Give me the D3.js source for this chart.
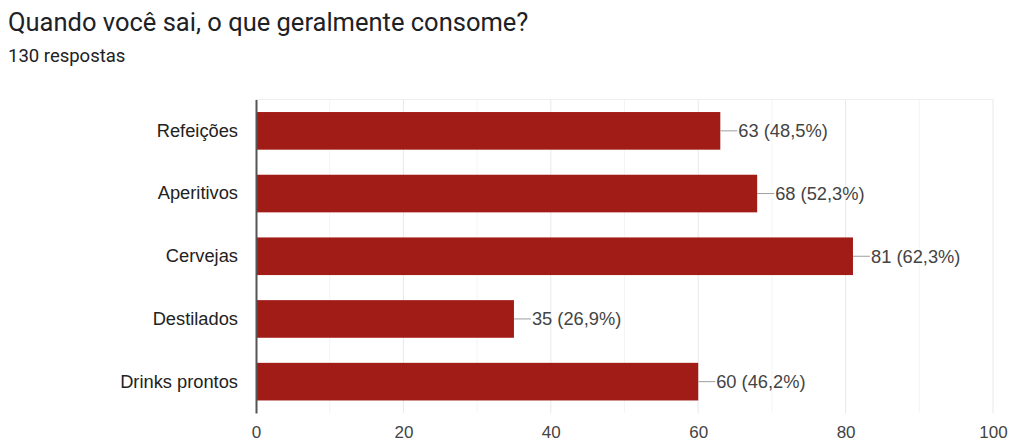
<!DOCTYPE html>
<html>
<head>
<meta charset="utf-8">
<script src="https://cdn.jsdelivr.net/npm/d3@7"></script>
<style>
  body { margin: 0; background: #fff; }
  svg { display: block; }
</style>
</head>
<body>
<svg id="chart" width="1010" height="441"></svg>
<script>
// data
var categorias = ["Refeições", "Aperitivos", "Cervejas", "Destilados", "Drinks prontos"];
var valores = [63, 68, 81, 35, 60];
var percentuais = ["48,5%", "52,3%", "62,3%", "26,9%", "46,2%"];
var ticksX = [0, 20, 40, 60, 80, 100];
var ticksMenores = [10, 30, 50, 70, 90];
var titulo = "Quando você sai, o que geralmente consome?";
var subtitulo = "130 respostas";

var margin = {top: 99.5, right: 17, bottom: 28, left: 256},
	width = 1010 - margin.left - margin.right,
	height = 441 - margin.top - margin.bottom;

var fonte = "Arial, 'Liberation Sans', sans-serif";

var svg = d3.select("#chart");

svg.append("text")
	.attr("x", 8)
	.attr("y", 31)
	.attr("font-family", "Roboto, Arial, sans-serif")
	.attr("font-size", "25.5px")
	.attr("fill", "#202124")
	.text(titulo);

svg.append("text")
	.attr("x", 8)
	.attr("y", 62)
	.attr("font-family", "Roboto, Arial, sans-serif")
	.attr("font-size", "18.5px")
	.attr("fill", "#202124")
	.text(subtitulo);

var g = svg.append("g")
	.attr("transform", "translate(" + margin.left + "," + margin.top + ")");

var x = d3.scaleLinear()
	.domain([0, 100])
	.range([0, width]);

var y = d3.scaleBand()
	.domain(categorias)
	.range([0, height])
	.paddingInner(0.4)
	.paddingOuter(0.2);

// minor gridlines
g.selectAll("line.menor")
	.data(ticksMenores)
	.enter()
	.append("line")
	.attr("class", "menor")
	.attr("x1", function(d){ return x(d); })
	.attr("x2", function(d){ return x(d); })
	.attr("y1", 0)
	.attr("y2", height)
	.attr("stroke", "#f4f4f4")
	.attr("stroke-width", 1);

// major gridlines
g.selectAll("line.maior")
	.data(ticksX.slice(1))
	.enter()
	.append("line")
	.attr("class", "maior")
	.attr("x1", function(d){ return x(d); })
	.attr("x2", function(d){ return x(d); })
	.attr("y1", 0)
	.attr("y2", height)
	.attr("stroke", "#e8e8e8")
	.attr("stroke-width", 1);

// top border of the plot
g.append("line")
	.attr("x1", 0)
	.attr("x2", width)
	.attr("y1", 0)
	.attr("y2", 0)
	.attr("stroke", "#eeeeee");

// bars
g.selectAll("rect.barra")
	.data(valores)
	.enter()
	.append("rect")
	.attr("class", "barra")
	.attr("x", 0)
	.attr("y", function(d, i){ return y(categorias[i]); })
	.attr("width", function(d){ return x(d); })
	.attr("height", y.bandwidth())
	.attr("fill", "#a11b17");

// connector from bar end to label
g.selectAll("line.conector")
	.data(valores)
	.enter()
	.append("line")
	.attr("class", "conector")
	.attr("x1", function(d){ return x(d); })
	.attr("x2", function(d){ return x(d) + 17; })
	.attr("y1", function(d, i){ return y(categorias[i]) + y.bandwidth() / 2; })
	.attr("y2", function(d, i){ return y(categorias[i]) + y.bandwidth() / 2; })
	.attr("stroke", "#9e9e9e")
	.attr("stroke-width", 1);

g.selectAll("text.rotulo")
	.data(valores)
	.enter()
	.append("text")
	.attr("class", "rotulo")
	.attr("x", function(d){ return x(d) + 18; })
	.attr("y", function(d, i){ return y(categorias[i]) + y.bandwidth() / 2; })
	.attr("dy", "0.35em")
	.attr("font-family", fonte)
	.attr("font-size", "18.3px")
	.attr("fill", "#444")
	.text(function(d, i){ return d + " (" + percentuais[i] + ")"; });

// y axis
var yAxis = g.append("g")
	.call(d3.axisLeft(y).tickSize(0).tickPadding(18));
yAxis.select(".domain")
	.attr("stroke", "#555")
	.attr("stroke-width", 2);
yAxis.selectAll("text")
	.attr("font-family", fonte)
	.attr("font-size", "18.3px")
	.attr("fill", "#222");

// x axis (labels only)
var xAxis = g.append("g")
	.attr("transform", "translate(0," + height + ")")
	.call(d3.axisBottom(x).tickValues(ticksX).tickSize(0).tickPadding(13));
xAxis.select(".domain").remove();
xAxis.selectAll("text")
	.attr("font-family", fonte)
	.attr("font-size", "17px")
	.attr("fill", "#444");
</script>
</body>
</html>
